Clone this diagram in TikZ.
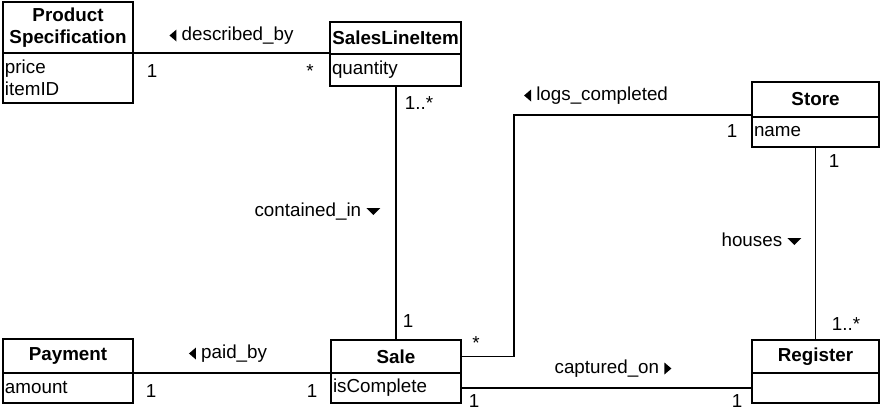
\documentclass[tikz,border=0pt]{standalone}
\usepackage{fontspec}
\setmainfont{Liberation Sans}
\usetikzlibrary{positioning}

\newcommand{\umlsize}{\fontsize{18.8}{22}\selectfont}
% reading-direction arrows for association names
\newcommand{\navL}{\tikz[baseline=0pt]\fill (0pt,4.5pt) -- (7pt,-1.5pt) -- (7pt,10.5pt) -- cycle;}
\newcommand{\navR}{\tikz[baseline=0pt]\fill (7pt,4.5pt) -- (0pt,-1.5pt) -- (0pt,10.5pt) -- cycle;}
\newcommand{\navD}{\tikz[baseline=0pt]\fill (0pt,8pt) -- (14pt,8pt) -- (7pt,1pt) -- cycle;}

\begin{document}
\begin{tikzpicture}[
    x=1pt, y=-1pt, font=\umlsize,
    classhead/.style={draw, line width=2pt, outer sep=0pt, inner sep=0pt, anchor=north west, align=center, font=\umlsize\bfseries},
    classattr/.style={draw, line width=2pt, outer sep=0pt, inner xsep=2pt, inner ysep=0pt, align=left},
    assoc/.style={line width=1.1pt},
    mult/.style={anchor=base, inner sep=0pt},
    role/.style={anchor=base, inner sep=0pt}
]
    \useasboundingbox (0,0) rectangle (882,410);

    \node[classhead, minimum width=130pt, minimum height=51pt] (ps) at (3,2) {Product\\Specification};
    \node[classattr, below=0pt of ps, text width=126pt, minimum height=50pt] (ps-attr) {price\\itemID};
    \node[classhead, minimum width=131pt, minimum height=32pt] (sli) at (330,22) {SalesLineItem};
    \node[classattr, below=0pt of sli, text width=127pt, minimum height=32pt] (sli-attr) {quantity};
    \node[classhead, minimum width=127pt, minimum height=35pt] (store) at (752,82) {Store};
    \node[classattr, below=0pt of store, text width=123pt, minimum height=30pt] (store-attr) {name};
    \node[classhead, minimum width=130pt, minimum height=34pt] (pay) at (3,339) {Payment};
    \node[classattr, below=0pt of pay, text width=126pt, minimum height=30pt] (pay-attr) {amount};
    \node[classhead, minimum width=130pt, minimum height=33pt] (sale) at (331,340) {Sale};
    \node[classattr, below=0pt of sale, text width=126pt, minimum height=30pt] (sale-attr) {isComplete};
    \node[classhead, minimum width=127pt, minimum height=33pt] (reg) at (752,340) {Register};
    \node[classattr, below=0pt of reg, text width=123pt, minimum height=30pt] (reg-attr) {};

    \coordinate (logs-bend) at (514,115);
    \draw[assoc] (ps.south east) -- (ps.south east -| sli.west);
    \draw[assoc] (sli-attr.south -| sale.north) -- (sale.north);
    \draw[assoc] (sale.east) -| (logs-bend) -- (logs-bend -| store.west);
    \draw[assoc] (store-attr.south) -- (reg.north);
    \draw[assoc] (pay.south east) -- (sale.south west);
    \draw[assoc] (sale-attr.east) -- (reg-attr.west);

    \node[role] (described) at (231.5,40) {\navL{} described\_by};
    \node[role] (contained) at (317.5,216) {contained\_in \navD};
    \node[role] (logs) at (596,100) {\navL{} logs\_completed};
    \node[role] (houses) at (761.5,246) {houses \navD};
    \node[role] (paid) at (228,358) {\navL{} paid\_by};
    \node[role] (captured) at (613,373) {captured\_on \navR};

    \node[mult] (m-ps-sli) at (152,77) {1};
    \node[mult] (m-sli-ps) at (310,77) {*};
    \node[mult] (m-sli-sale) at (419,109) {1..*};
    \node[mult] (m-sale-sli) at (408,327) {1};
    \node[mult] (m-sale-store) at (476,349) {*};
    \node[mult] (m-store-sale) at (732,137) {1};
    \node[mult] (m-store-reg) at (834,167) {1};
    \node[mult] (m-reg-store) at (846,330) {1..*};
    \node[mult] (m-pay-sale) at (151,397) {1};
    \node[mult] (m-sale-pay) at (312,397) {1};
    \node[mult] (m-sale-reg) at (474,407) {1};
    \node[mult] (m-reg-sale) at (737,407) {1};
\end{tikzpicture}
\end{document}
